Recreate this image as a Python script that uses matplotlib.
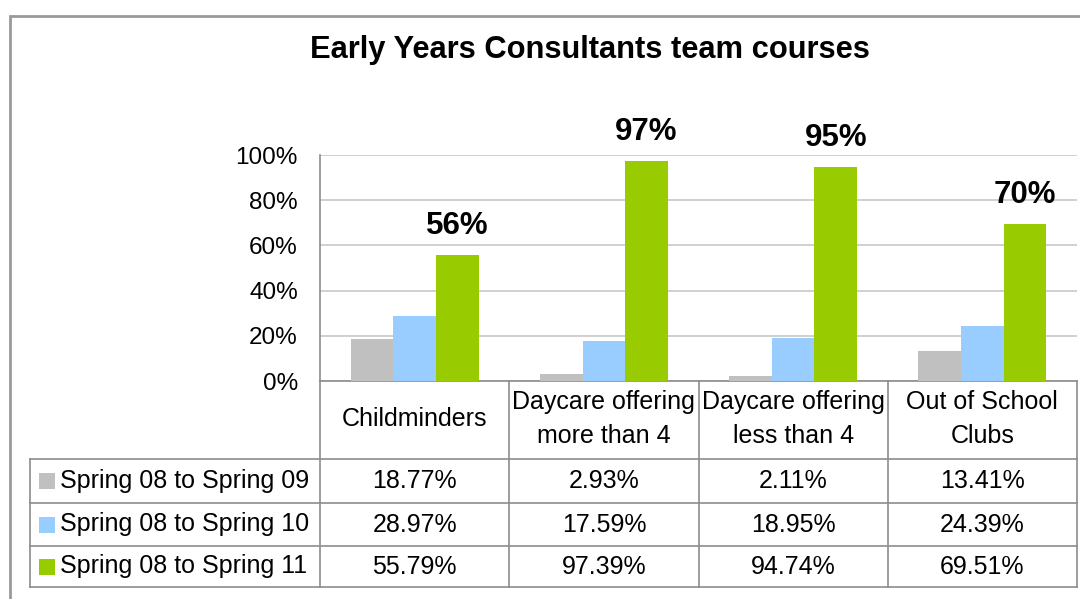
import matplotlib
matplotlib.use("Agg")
import matplotlib.pyplot as plt
from matplotlib.lines import Line2D
from matplotlib.patches import Rectangle
from matplotlib.ticker import PercentFormatter

plt.rcParams['font.family'] = ['Liberation Sans', 'DejaVu Sans']

title = "Early Years Consultants team courses"
categories = ["Childminders", "Daycare offering\nmore than 4",
              "Daycare offering\nless than 4", "Out of School\nClubs"]
series_names = ["Spring 08 to Spring 09", "Spring 08 to Spring 10", "Spring 08 to Spring 11"]
spring09 = [18.77, 2.93, 2.11, 13.41]
spring10 = [28.97, 17.59, 18.95, 24.39]
spring11 = [55.79, 97.39, 94.74, 69.51]
yticks = [0, 20, 40, 60, 80, 100]

series = [spring09, spring10, spring11]
colors = ["#C0C0C0", "#99CCFF", "#99CC00"]

W, H = 1080, 599
fig = plt.figure(figsize=(W / 100, H / 100), dpi=100)

def fx(px):
    return px / W

def fy(py):
    return 1 - py / H

FS = 18

# outer chart border
fig.add_artist(Rectangle((fx(10), fy(640)), fx(1200), fy(16) - fy(640),
                         transform=fig.transFigure, fill=False,
                         edgecolor="#999999", linewidth=2))

fig.text(fx(590), fy(50), title, ha="center", va="center",
         fontsize=22.2, fontweight="bold")

left, right, top, bottom = 320, 1077, 155, 381
ax = fig.add_axes([fx(left), fy(bottom), fx(right) - fx(left), fy(top) - fy(bottom)])
n = len(categories)
bw = 0.2255
xs = list(range(n))
for i, (vals, c) in enumerate(zip(series, colors)):
    ax.bar([x + (i - 1) * bw for x in xs], vals, width=bw, color=c, zorder=3)

for x, v in zip(xs, spring11):
    ax.annotate(f"{v:.0f}%", (x + bw, v), xytext=(0, 15), textcoords="offset points",
                ha="center", va="baseline", fontsize=22.5, fontweight="bold")

ax.set_xlim(-0.5, n - 0.5)
ax.set_ylim(0, 100)
ax.set_yticks(yticks)
ax.yaxis.set_major_formatter(PercentFormatter(100, decimals=0))
ax.set_xticks([])
ax.tick_params(axis="y", length=0, pad=16, labelsize=17.5)
ax.grid(axis="y", color="#C8C8C8", linewidth=1.2, zorder=0)
for s in ["top", "right"]:
    ax.spines[s].set_visible(False)
ax.spines["left"].set_color("#8C8C8C")
ax.spines["bottom"].set_color("#8C8C8C")
ax.spines["left"].set_linewidth(1.2)
ax.spines["bottom"].set_linewidth(1.2)

# data table
lc = "#8C8C8C"
def hline(y, x0, x1):
    fig.add_artist(Line2D([fx(x0), fx(x1)], [fy(y), fy(y)], transform=fig.transFigure,
                          color=lc, linewidth=1.2))

def vline(x, y0, y1):
    fig.add_artist(Line2D([fx(x), fx(x)], [fy(y0), fy(y1)], transform=fig.transFigure,
                          color=lc, linewidth=1.2))

col_edges = [left + (right - left) * k / n for k in range(n + 1)]
row_edges = [459, 503, 546, 587]
header_top = bottom

for y in row_edges:
    hline(y, 30, right)
vline(30, row_edges[0], row_edges[-1])
for x in col_edges:
    vline(x, header_top, row_edges[-1])

for k, cat in enumerate(categories):
    cx = (col_edges[k] + col_edges[k + 1]) / 2
    fig.text(fx(cx), fy((header_top + row_edges[0]) / 2 - 1), cat, ha="center", va="center",
             fontsize=FS, linespacing=1.5)

for r, (name, vals, c) in enumerate(zip(series_names, series, colors)):
    cy = (row_edges[r] + row_edges[r + 1]) / 2
    fig.add_artist(Rectangle((fx(39), fy(cy + 8)), fx(16), fy(cy - 8) - fy(cy + 8),
                             transform=fig.transFigure, facecolor=c, edgecolor="none"))
    fig.text(fx(60), fy(cy), name, ha="left", va="center", fontsize=FS)
    for k, v in enumerate(vals):
        cx = (col_edges[k] + col_edges[k + 1]) / 2
        fig.text(fx(cx), fy(cy), f"{v:.2f}%", ha="center", va="center", fontsize=FS)

fig.savefig("out.png", dpi=100)
